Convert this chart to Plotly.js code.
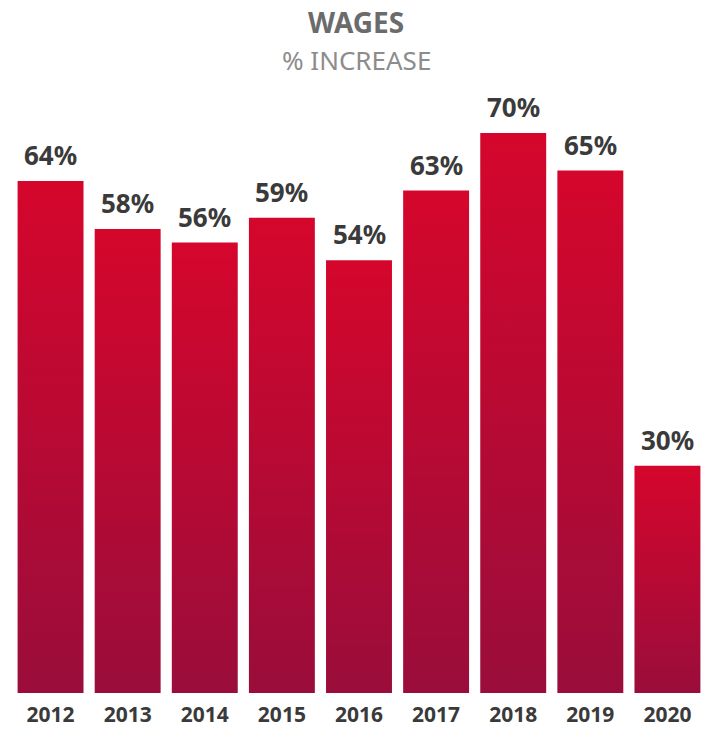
<!DOCTYPE html>
<html>
<head>
<meta charset="utf-8">
<script src="https://cdn.plot.ly/plotly-3.0.1.min.js"></script>
<style>
html,body{margin:0;padding:0;background:#fff;}
#chart{width:711px;height:731px;}
</style>
</head>
<body>
<div id="chart"></div>
<script>
const years = ['2012','2013','2014','2015','2016','2017','2018','2019','2020'];
const barValues = [64, 58, 56.3, 59.4, 54.1, 62.8, 70, 65.3, 28.4];
const labelTexts = ['64%','58%','56%','59%','54%','63%','70%','65%','30%'];

const FONT = 'Noto Sans, Open Sans, sans-serif';

const trace = {
  type: 'bar',
  x: years,
  y: barValues,
  marker: {color: '#c20a32', line: {width: 0}},
  hoverinfo: 'none'
};

const annotations = years.map((yr, i) => ({
  x: i, y: barValues[i], xref: 'x', yref: 'y',
  text: '<b>' + labelTexts[i] + '</b>',
  showarrow: false, yanchor: 'bottom', yshift: 6,
  font: {family: FONT, size: 26, color: '#3a3a3a'}
}));
annotations.push({
  xref: 'paper', yref: 'paper', x: 0.496, y: 1, yanchor: 'bottom', yshift: 50,
  text: '<b>WAGES</b>', showarrow: false,
  font: {family: FONT, size: 28, color: '#6b6b6b'}
});
annotations.push({
  xref: 'paper', yref: 'paper', x: 0.496, y: 1, yanchor: 'bottom', yshift: 13,
  text: '% INCREASE', showarrow: false,
  font: {family: FONT, size: 26, color: '#8c8c8c'}
});

const layout = {
  width: 711, height: 731,
  margin: {l: 12, r: 5, t: 93, b: 38, pad: 0},
  paper_bgcolor: '#ffffff', plot_bgcolor: '#ffffff',
  showlegend: false,
  bargap: 0.145,
  xaxis: {
    type: 'category', range: [-0.5, 8.5],
    showgrid: false, zeroline: false, showline: false,
    ticks: 'outside', ticklen: 3, tickcolor: 'rgba(0,0,0,0)',
    tickfont: {family: FONT, size: 21, color: '#3a3a3a', weight: 'bold'}
  },
  yaxis: {
    range: [0, 75], visible: false, showgrid: false, zeroline: false
  },
  annotations: annotations
};

Plotly.newPlot('chart', [trace], layout, {displayModeBar: false, staticPlot: true}).then(gd => {
  const svg = gd.querySelector('svg.main-svg');
  const ns = 'http://www.w3.org/2000/svg';
  let defs = svg.querySelector('defs');
  if (!defs) { defs = document.createElementNS(ns, 'defs'); svg.insertBefore(defs, svg.firstChild); }
  const grad = document.createElementNS(ns, 'linearGradient');
  grad.setAttribute('id', 'barGrad');
  grad.setAttribute('x1', '0'); grad.setAttribute('y1', '0');
  grad.setAttribute('x2', '0'); grad.setAttribute('y2', '1');
  [['0', '#d5062c'], ['1', '#9a0d3b']].forEach(([o, c]) => {
    const s = document.createElementNS(ns, 'stop');
    s.setAttribute('offset', o); s.setAttribute('stop-color', c);
    grad.appendChild(s);
  });
  defs.appendChild(grad);
  gd.querySelectorAll('.bars .point path').forEach(p => { p.style.fill = 'url(#barGrad)'; });
});
</script>
</body>
</html>
